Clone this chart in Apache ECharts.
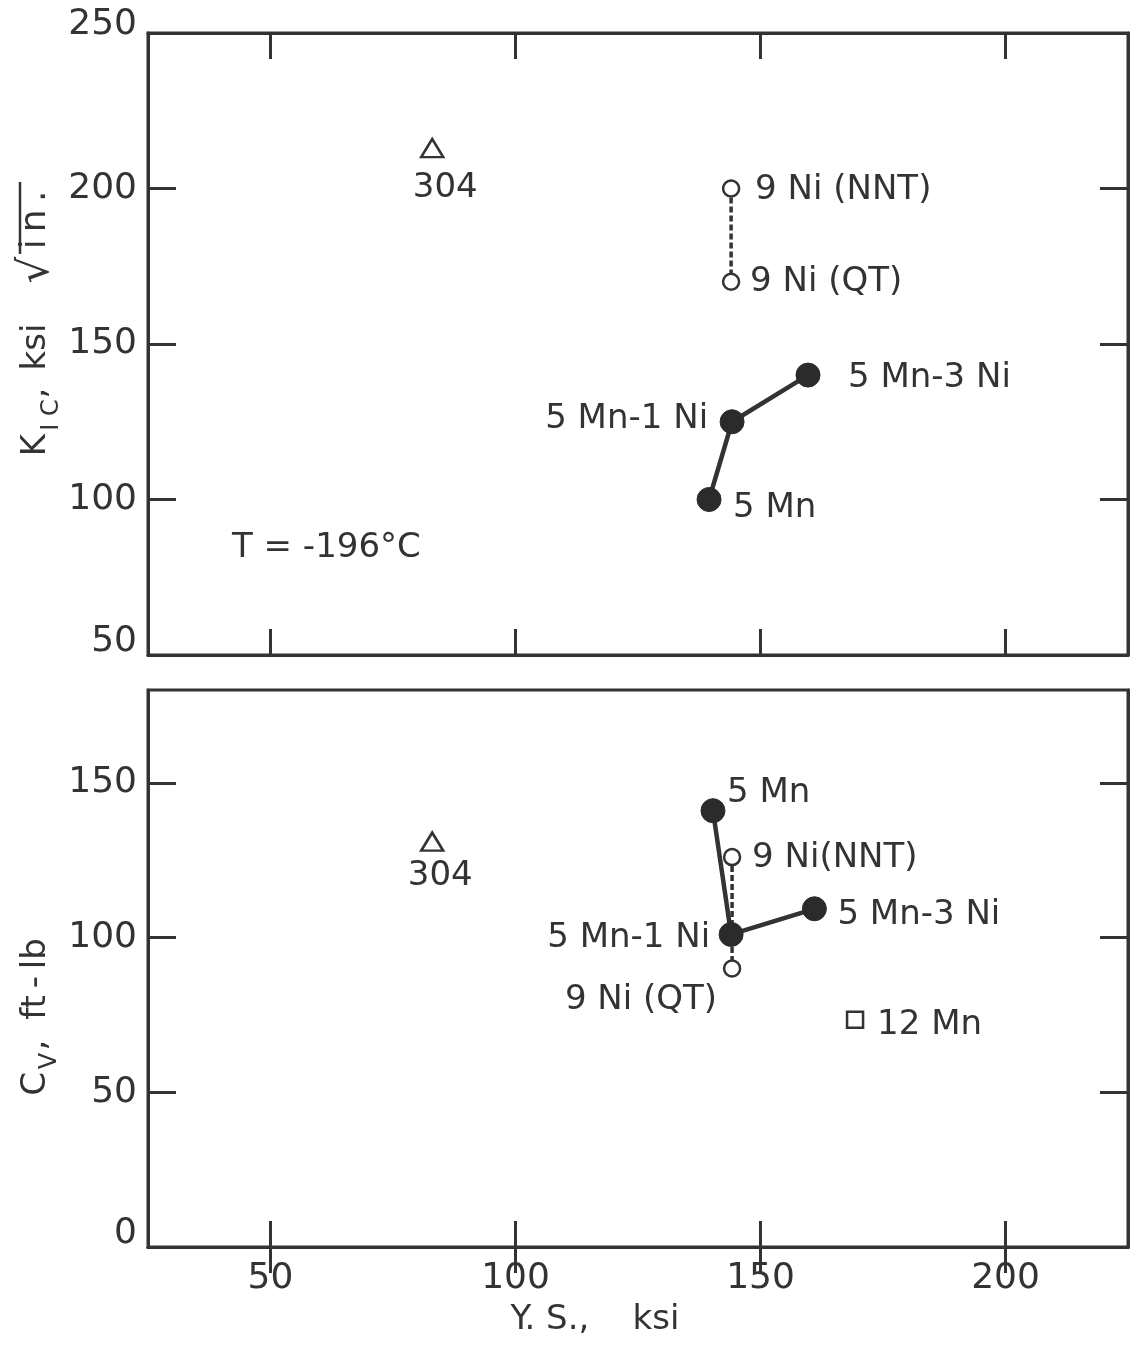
<!DOCTYPE html>
<html><head><meta charset="utf-8">
<script src="https://cdn.jsdelivr.net/npm/echarts@6/dist/echarts.min.js"></script>
<style>html,body{margin:0;padding:0;background:#fff}#c{width:1130px;height:1346px}</style>
</head><body><div id="c"></div>
<script>
// ---- data ----
const xTicks = [50, 100, 150, 200];
const kicTicks = [50, 100, 150, 200, 250];
const cvTicks = [0, 50, 100, 150];

const kicMnNames = ['5 Mn', '5 Mn-1 Ni', '5 Mn-3 Ni'];
const kicMnX = [139.5, 144.2, 159.7];
const kicMnY = [100, 125, 140];
const kicNiNames = ['9 Ni (NNT)', '9 Ni (QT)'];
const kicNiX = [144, 144];
const kicNiY = [200, 170];
const kic304Names = ['304'];
const kic304X = [83];
const kic304Y = [213];

const cvMnNames = ['5 Mn', '5 Mn-1 Ni', '5 Mn-3 Ni'];
const cvMnX = [140.3, 144, 161];
const cvMnY = [141, 101, 109.3];
const cvNiNames = ['9 Ni(NNT)', '9 Ni (QT)'];
const cvNiX = [144.2, 144.2];
const cvNiY = [126, 90];
const cv304Names = ['304'];
const cv304X = [83];
const cv304Y = [131];
const cv12MnNames = ['12 Mn'];
const cv12MnX = [169.3];
const cv12MnY = [73.4];

// ---- label layout (pixel offsets from point) ----
const kicMnLab = [['left', 24, 9], ['right', -24, -3], ['left', 40, 3]];
const kicNiLab = [['left', 24, 2], ['left', 19, 0]];
const kic304Lab = [['center', 13, 40]];
const cvMnLab = [['left', 14, -18], ['right', -21, 4], ['left', 23, 6]];
const cvNiLab = [['left', 20, 1], ['right', -15, 32]];
const cv304Lab = [['center', 8, 35]];
const cv12MnLab = [['left', 22, 5]];

const FONT = 'DejaVu Sans';
const INK = '#333';

function pts(xs, ys, names, lab) {
  return xs.map((x, i) => ({
    value: [x, ys[i]], name: names[i],
    label: {
      show: true, position: 'inside', formatter: '{b}',
      align: lab[i][0], verticalAlign: 'middle',
      offset: [lab[i][1], lab[i][2]],
      fontFamily: FONT, fontSize: 34, color: INK
    }
  }));
}

const filledStyle = { color: '#2b2b2b', borderColor: '#2b2b2b', borderWidth: 1, opacity: 1 };
const openStyle = { color: '#fff', borderColor: INK, borderWidth: 2.5, opacity: 1 };

function xAx(gi, pos, labels) {
  return {
    type: 'value', gridIndex: gi, position: pos, min: 25, max: 225,
    splitLine: { show: false },
    axisLine: { show: true, lineStyle: { color: INK, width: 3 } },
    axisTick: { show: true, inside: true, length: 26, customValues: xTicks, lineStyle: { color: INK, width: 3 } },
    axisLabel: { show: labels, customValues: xTicks, margin: 14, fontFamily: FONT, fontSize: 36, color: INK }
  };
}
function yAx(gi, pos, labels, min, max, ticks, lifted) {
  return {
    type: 'value', gridIndex: gi, position: pos, min: min, max: max,
    splitLine: { show: false },
    axisLine: { show: true, lineStyle: { color: INK, width: 3 } },
    axisTick: { show: true, inside: true, length: 28, customValues: ticks, lineStyle: { color: INK, width: 3 } },
    axisLabel: {
      show: labels, customValues: ticks, margin: 11, fontFamily: FONT, fontSize: 36, color: INK,
      formatter: v => (lifted[v] ? '{u' + lifted[v] + '|' + v + '}' : String(v)),
      rich: {
        u16: { fontFamily: FONT, fontSize: 36, color: INK, padding: [0, 0, 16, 0] },
        u26: { fontFamily: FONT, fontSize: 36, color: INK, padding: [0, 0, 26, 0] }
      }
    }
  };
}

function vText(x, y, text, size) {
  return { type: 'text', x: x, y: y, rotation: Math.PI / 2,
    style: { text: text, fontFamily: FONT, fontSize: size, fill: INK, align: 'center', verticalAlign: 'middle' } };
}

const chart = echarts.init(document.getElementById('c'), null, { renderer: 'canvas' });
chart.setOption({
  animation: false,
  backgroundColor: '#fff',
  grid: [
    { left: 148, top: 33, width: 980, height: 622, show: true, borderColor: INK, borderWidth: 3 },
    { left: 148, top: 690, width: 980, height: 557, show: true, borderColor: INK, borderWidth: 3 }
  ],
  xAxis: [xAx(0, 'bottom', false), xAx(0, 'top', false), xAx(1, 'bottom', true), xAx(1, 'top', false)],
  yAxis: [yAx(0, 'left', true, 50, 250, kicTicks, { 250: 16, 50: 26 }), yAx(0, 'right', false, 50, 250, kicTicks, {}),
          yAx(1, 'left', true, 0, 180, cvTicks, { 0: 26 }), yAx(1, 'right', false, 0, 180, cvTicks, {})],
  graphic: [
    { type: 'text', left: 232, top: 531, style: { text: 'T = -196°C', fontFamily: FONT, fontSize: 34, fill: INK } },
    { type: 'text', x: 595, y: 1320, style: { text: 'Y. S.,    ksi', fontFamily: FONT, fontSize: 34, fill: INK, align: 'center', verticalAlign: 'middle' } },
    // K_IC, ksi sqrt(in.)
    vText(36, 445, 'K', 34),
    vText(52, 415, 'I C', 24),
    vText(36, 393, ',', 34),
    vText(36, 347, 'ksi', 34),
    vText(37, 270, '√', 42),
    vText(36, 220, 'i\u2009n\u2009.', 36),
    { type: 'line', shape: { x1: 20, y1: 182, x2: 20, y2: 254 }, style: { stroke: INK, lineWidth: 2.5 } },
    // C_V, ft-lb
    vText(36, 1084, 'C', 34),
    vText(50, 1061, 'V', 24),
    vText(36, 1045, ',', 34),
    vText(36, 979, 'ft\u2009-\u2009lb', 34)
  ],
  series: [
    { type: 'line', xAxisIndex: 0, yAxisIndex: 0, z: 2, data: pts(kicNiX, kicNiY, kicNiNames, kicNiLab),
      symbol: 'circle', symbolSize: 16, itemStyle: openStyle,
      lineStyle: { color: INK, width: 3.5, type: [6, 3] } },
    { type: 'line', xAxisIndex: 0, yAxisIndex: 0, z: 3, data: pts(kicMnX, kicMnY, kicMnNames, kicMnLab),
      symbol: 'circle', symbolSize: 24, itemStyle: filledStyle,
      lineStyle: { color: INK, width: 4.5 } },
    { type: 'scatter', xAxisIndex: 0, yAxisIndex: 0, z: 3, data: pts(kic304X, kic304Y, kic304Names, kic304Lab),
      symbol: 'triangle', symbolSize: [22, 18], itemStyle: openStyle },

    { type: 'line', xAxisIndex: 2, yAxisIndex: 2, z: 2, data: pts(cvNiX, cvNiY, cvNiNames, cvNiLab),
      symbol: 'circle', symbolSize: 16, itemStyle: openStyle,
      lineStyle: { color: INK, width: 3.5, type: [6, 3] } },
    { type: 'line', xAxisIndex: 2, yAxisIndex: 2, z: 3, data: pts(cvMnX, cvMnY, cvMnNames, cvMnLab),
      symbol: 'circle', symbolSize: 24, itemStyle: filledStyle,
      lineStyle: { color: INK, width: 4.5 } },
    { type: 'scatter', xAxisIndex: 2, yAxisIndex: 2, z: 3, data: pts(cv304X, cv304Y, cv304Names, cv304Lab),
      symbol: 'triangle', symbolSize: [22, 18], itemStyle: openStyle },
    { type: 'scatter', xAxisIndex: 2, yAxisIndex: 2, z: 3, data: pts(cv12MnX, cv12MnY, cv12MnNames, cv12MnLab),
      symbol: 'rect', symbolSize: 16, itemStyle: openStyle }
  ]
});
</script></body></html>
